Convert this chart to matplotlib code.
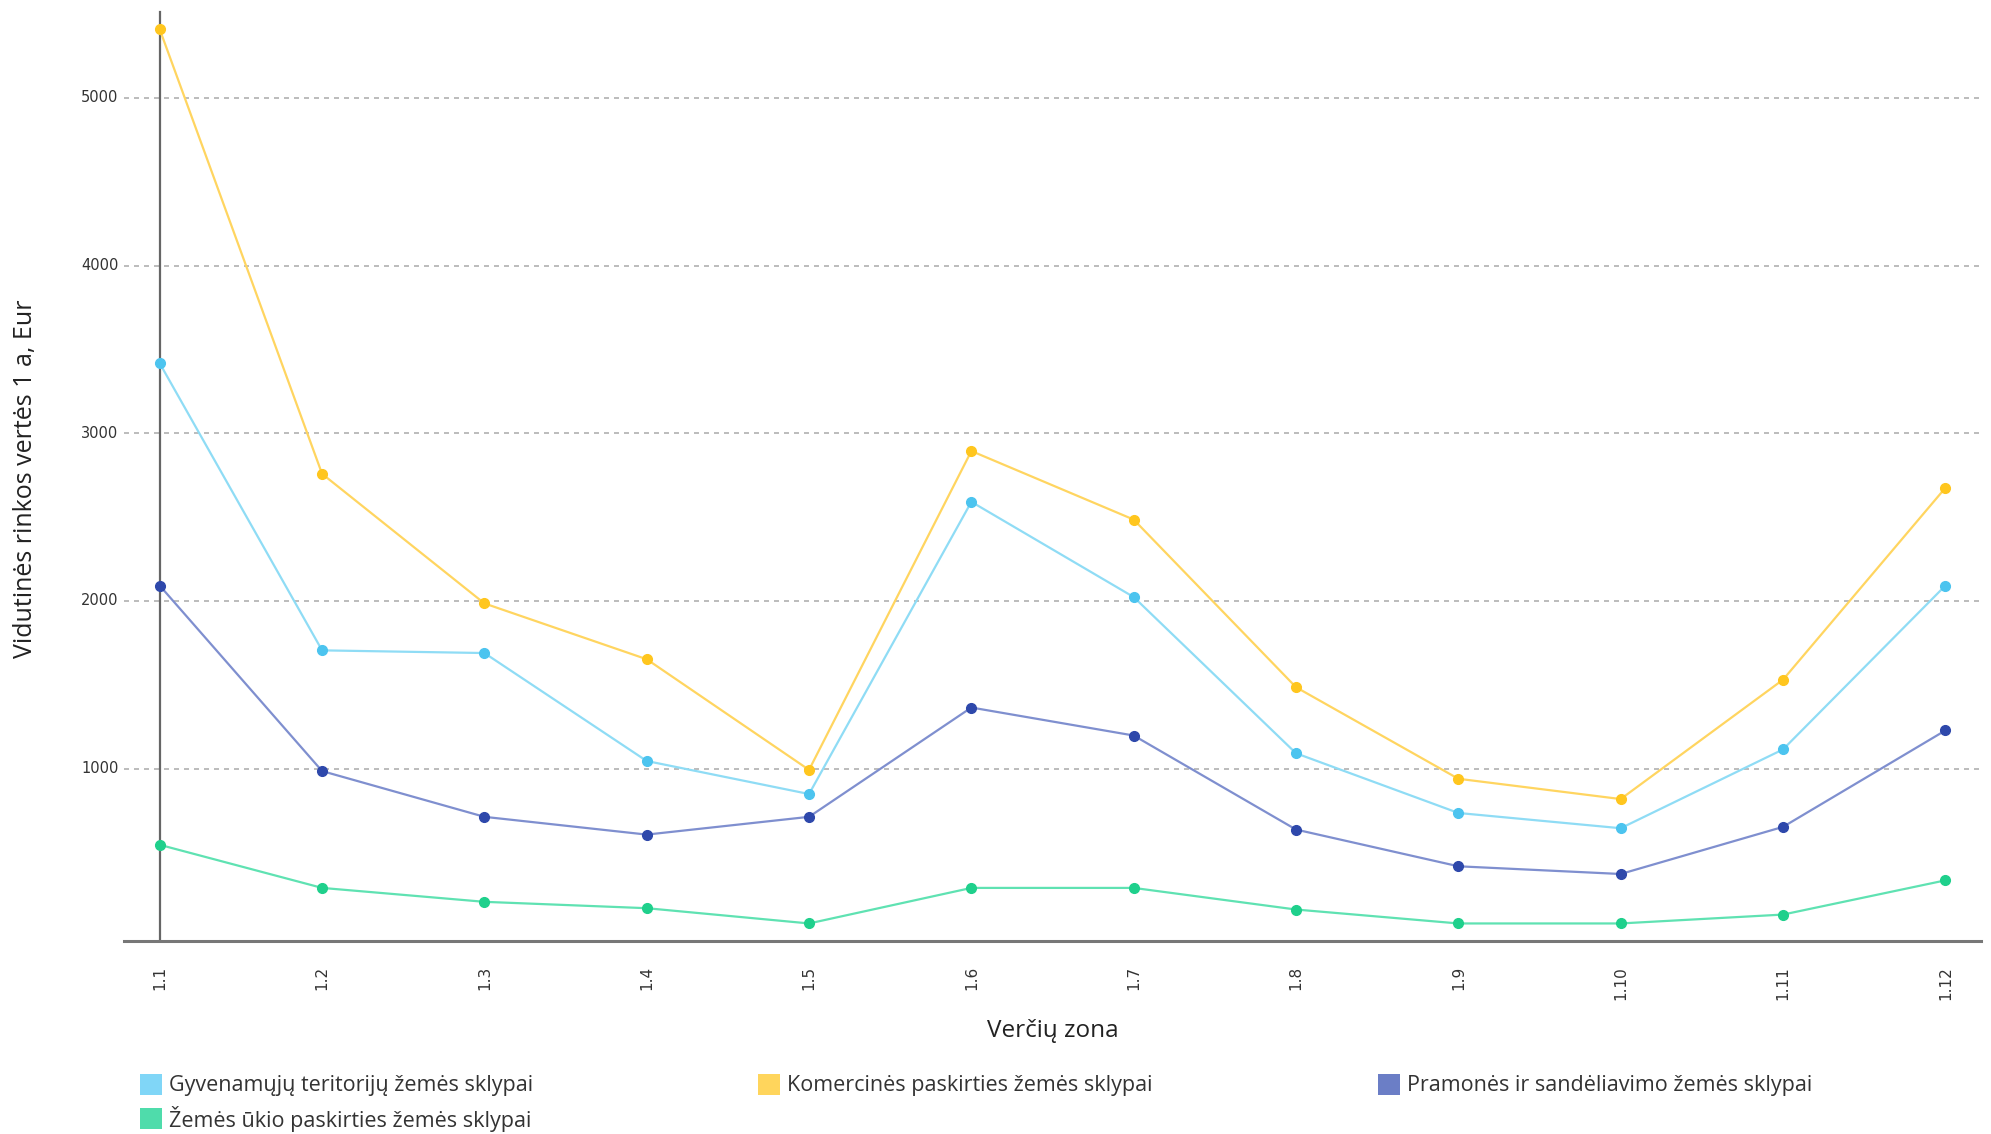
import matplotlib
matplotlib.use("Agg")
import matplotlib.pyplot as plt
from matplotlib.patches import Rectangle

categories = ["1.1", "1.2", "1.3", "1.4", "1.5", "1.6", "1.7", "1.8", "1.9", "1.10", "1.11", "1.12"]
series_names = [
    "Gyvenamųjų teritorijų žemės sklypai",
    "Komercinės paskirties žemės sklypai",
    "Pramonės ir sandėliavimo žemės sklypai",
    "Žemės ūkio paskirties žemės sklypai",
]
gyvenamuju = [3417, 1705, 1689, 1045, 848, 2591, 2023, 1091, 735, 644, 1114, 2091]
komercines = [5409, 2758, 1985, 1652, 992, 2894, 2485, 1485, 939, 818, 1530, 2674]
pramones = [2091, 985, 712, 606, 712, 1364, 1197, 636, 417, 371, 652, 1227]
zemes_ukio = [545, 288, 205, 167, 76, 288, 288, 159, 76, 76, 129, 333]
y_ticks = [1000, 2000, 3000, 4000, 5000]

series = [gyvenamuju, komercines, pramones, zemes_ukio]
line_colors = ["#8fdcf5", "#ffd560", "#7f8fcf", "#5fe2b2"]
marker_colors = ["#4cc4ef", "#ffc61e", "#2e48ab", "#1fd08c"]
legend_colors = ["#80d6f7", "#ffd55c", "#6b7ec6", "#4fdcab"]

plt.rcParams['font.family'] = ['Open Sans', 'DejaVu Sans']

fig = plt.figure(figsize=(19.91, 11.34), dpi=100)
ax = fig.add_axes([0.0623, 0.170, 0.9327, 0.819])

x = list(range(len(categories)))
for vals, lc, mc in zip(series, line_colors, marker_colors):
    ax.plot(x, vals, color=lc, lw=1.6, marker='o', markersize=7,
            markerfacecolor=mc, markeredgecolor=mc, zorder=3)

ax.set_xlim(-0.22, 11.22)
ax.set_ylim(-30, 5510)

for s in ['top', 'right']:
    ax.spines[s].set_visible(False)
ax.spines['left'].set_position(('data', 0))
ax.spines['left'].set_color('#666666')
ax.spines['left'].set_linewidth(1.6)
ax.spines['bottom'].set_color('#777777')
ax.spines['bottom'].set_linewidth(2.2)

ax.set_yticks(y_ticks)
ax.set_yticklabels([])
ax.tick_params(axis='y', length=0, left=False)
for v in y_ticks:
    ax.text(-0.255, v, str(v), transform=ax.transData, ha='right', va='center',
            fontsize=10.5, color='#333333', family=['DejaVu Sans'])
ax.grid(axis='y', color='#b0b0b0', linestyle=(0, (3, 3)), linewidth=1.2)
ax.set_axisbelow(True)

ax.set_xticks(x)
ax.set_xticklabels(categories, rotation=90, fontsize=11, color='#333333',
                   va='top', family=['DejaVu Sans'])
ax.tick_params(axis='x', length=0, pad=18)

ax.set_xlabel("Verčių zona", fontsize=17.5, color='#222222', labelpad=14)
fig.text(0.0127, 0.578, "Vidutinės rinkos vertės 1 a, Eur", rotation=90,
         ha='center', va='center', fontsize=18, color='#222222')

# legend (manual layout)
W, H = 1991.0, 1134.0
positions = [(140, 1074), (758, 1074), (1378, 1074), (140, 1108)]
for name, col, (px, py) in zip(series_names, legend_colors, positions):
    fig.add_artist(Rectangle((px / W, 1 - (py + 21) / H), 22 / W, 21 / H,
                             transform=fig.transFigure, facecolor=col,
                             edgecolor='none'))
    fig.text((px + 29) / W, 1 - (py + 11) / H, name, ha='left', va='center',
             fontsize=15.5, color='#333333')

fig.savefig("out.png", dpi=100)
